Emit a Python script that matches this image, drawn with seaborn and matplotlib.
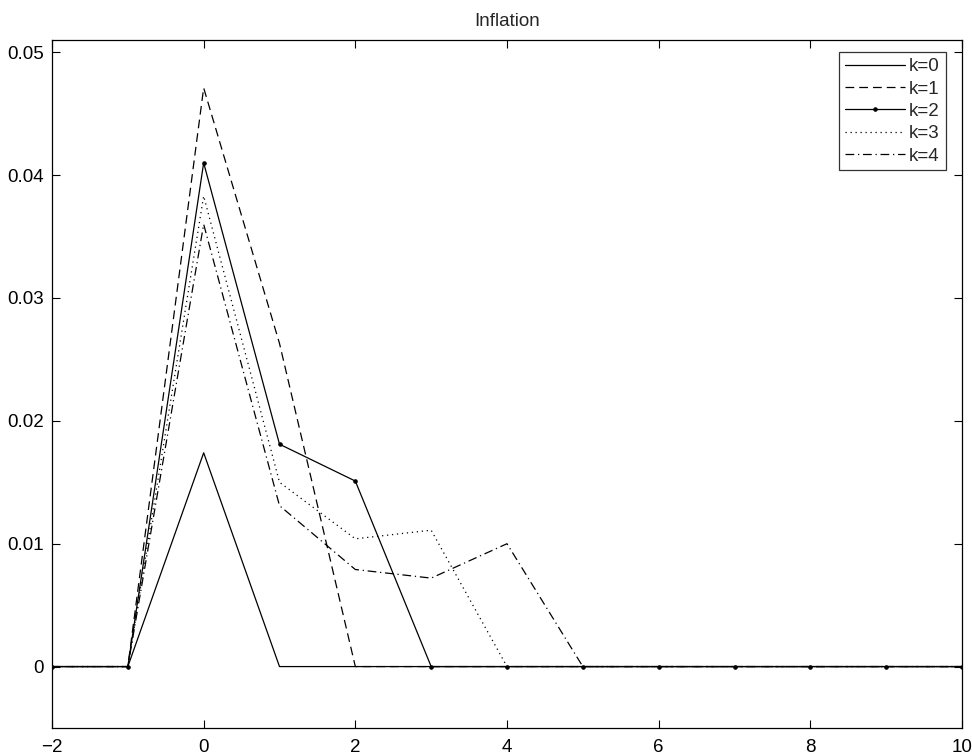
import matplotlib
matplotlib.use("Agg")
import matplotlib.pyplot as plt
import seaborn as sns
import pandas as pd
import numpy as np

sns.set_theme(style="white")
plt.rcParams['font.family'] = ['Liberation Sans', 'DejaVu Sans']

horizon = [-2, -1, 0, 1, 2, 3, 4, 5, 6, 7, 8, 9, 10]
k0 = [0, 0, 0.0174, 0, 0, 0, 0, 0, 0, 0, 0, 0, 0]
k1 = [0, 0, 0.0471, 0.0263, 0, 0, 0, 0, 0, 0, 0, 0, 0]
k2 = [0, 0, 0.0410, 0.0181, 0.0151, 0, 0, 0, 0, 0, 0, 0, 0]
k3 = [0, 0, 0.0383, 0.0150, 0.0104, 0.0111, 0, 0, 0, 0, 0, 0, 0]
k4 = [0, 0, 0.0360, 0.0131, 0.0079, 0.0072, 0.0100, 0, 0, 0, 0, 0, 0]
labels = ["k=0", "k=1", "k=2", "k=3", "k=4"]
title = "Inflation"

series = [k0, k1, k2, k3, k4]
styles = [
    dict(linestyle="-"),
    dict(linestyle=(0, (7, 4))),
    dict(linestyle="-", marker=".", markersize=5, markeredgecolor="black",
         markerfacecolor="black"),
    dict(linestyle=(0, (1, 3))),
    dict(linestyle=(0, (7, 3, 1, 3))),
]

fig = plt.figure(figsize=(9.72, 7.56), dpi=100)
ax = fig.add_axes([52/972, 1-728/756, (962-52)/972, (728-40)/756])

for lab, vals, st in zip(labels, series, styles):
    df = pd.DataFrame({"h": horizon, "v": vals})
    sns.lineplot(data=df, x="h", y="v", ax=ax, color="black", linewidth=0.9,
                 label=lab, **st)

ax.set_xlim(-2, 10)
ax.set_ylim(-0.005, 0.051)
ax.set_xticks([-2, 0, 2, 4, 6, 8, 10])
ax.set_xticklabels(["\u22122", "0", "2", "4", "6", "8", "10"])
ax.set_yticks([0, 0.01, 0.02, 0.03, 0.04, 0.05])
ax.set_yticklabels(["0", "0.01", "0.02", "0.03", "0.04", "0.05"])
ax.set_xlabel("")
ax.set_ylabel("")
ax.set_title(title, fontsize=13.5, pad=10)
for s in ax.spines.values():
    s.set_visible(True)
    s.set_color("black")
    s.set_linewidth(0.9)
ax.tick_params(direction="in", length=6, width=0.8, top=True, right=True,
               bottom=True, left=True, labelsize=13.5, colors="black", pad=6)
ax.tick_params(axis="x", pad=8)
ax.grid(False)

leg = ax.legend(loc="upper right", bbox_to_anchor=(0.982, 0.982), frameon=True,
                fancybox=False, edgecolor="black", fontsize=13.5,
                handlelength=3.2, handletextpad=0.25, borderpad=0.3,
                labelspacing=0.28, borderaxespad=0.0)
leg.get_frame().set_linewidth(0.9)

fig.savefig("out.png", dpi=100)
